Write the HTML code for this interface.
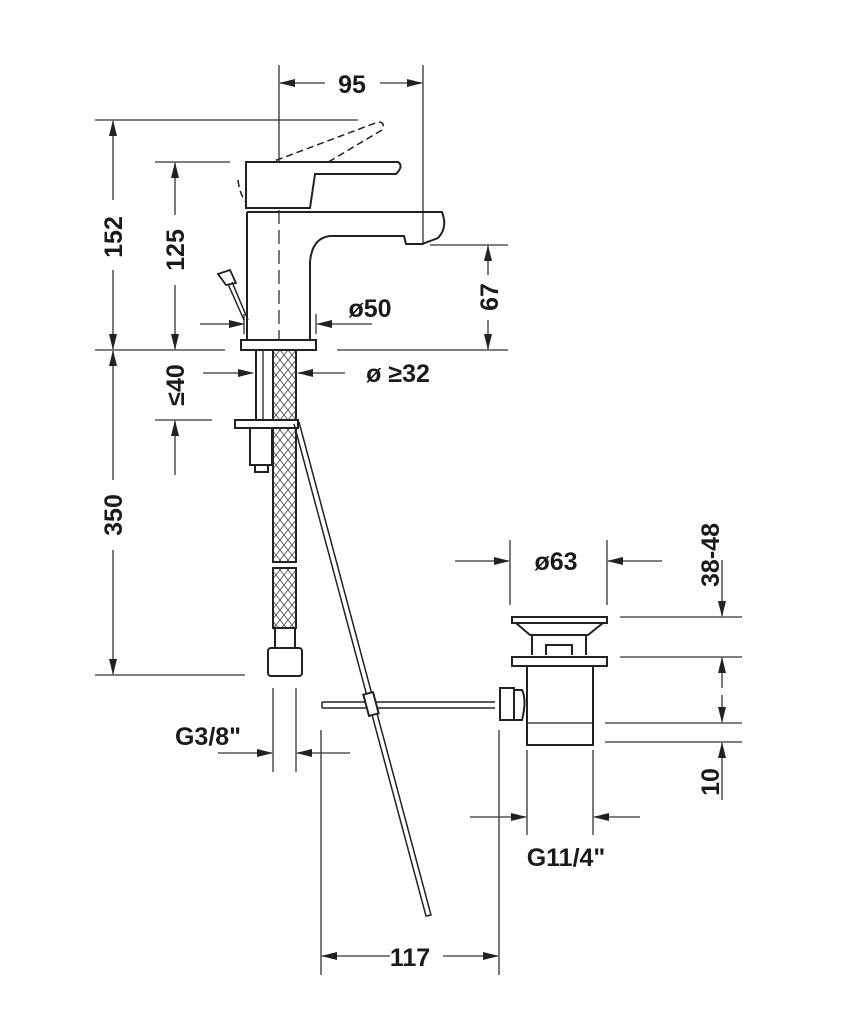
<!DOCTYPE html>
<html><head><meta charset="utf-8"><style>
html,body{margin:0;padding:0;background:#fff}
svg{display:block}
text{font-family:"Liberation Sans Narrow","Liberation Sans",sans-serif;font-weight:bold;font-size:25px;fill:#1a1a1a}
</style></head><body>
<svg width="866" height="1024" viewBox="0 0 866 1024" xmlns="http://www.w3.org/2000/svg">
<defs>
<marker id="a" markerWidth="16" markerHeight="8" refX="15" refY="4" orient="auto" markerUnits="userSpaceOnUse">
<path d="M0,0 L16,4 L0,8 Z" fill="#222"/></marker>
<pattern id="x" width="8" height="10" patternUnits="userSpaceOnUse">
<path d="M0,0 L8,10 M8,0 L0,10" stroke="#444" stroke-width="0.8"/></pattern>
</defs>
<g stroke="#333" stroke-width="1.3" fill="none">
<line x1="279" y1="65" x2="279" y2="150"/>
<line x1="423" y1="65" x2="423" y2="245"/>
<line x1="325" y1="83" x2="280" y2="83" marker-end="url(#a)"/>
<line x1="380" y1="83" x2="422" y2="83" marker-end="url(#a)"/>
<line x1="279" y1="150" x2="279" y2="350" stroke-dasharray="14,6"/>
<line x1="95" y1="120" x2="358" y2="120"/>
<line x1="95" y1="350" x2="225" y2="350"/>
<line x1="113" y1="200" x2="113" y2="121" marker-end="url(#a)"/>
<line x1="113" y1="270" x2="113" y2="349" marker-end="url(#a)"/>
<line x1="155" y1="162" x2="230" y2="162"/>
<line x1="175" y1="215" x2="175" y2="163" marker-end="url(#a)"/>
<line x1="175" y1="285" x2="175" y2="349" marker-end="url(#a)"/>
<line x1="113" y1="480" x2="113" y2="351" marker-end="url(#a)"/>
<line x1="113" y1="550" x2="113" y2="674" marker-end="url(#a)"/>
<line x1="95" y1="675" x2="245" y2="675"/>
<line x1="430" y1="245" x2="508" y2="245"/>
<line x1="337" y1="350" x2="508" y2="350"/>
<line x1="488" y1="275" x2="488" y2="246" marker-end="url(#a)"/>
<line x1="488" y1="320" x2="488" y2="349" marker-end="url(#a)"/>
<line x1="200" y1="324" x2="244" y2="324" marker-end="url(#a)"/>
<line x1="244" y1="314" x2="244" y2="334"/>
<line x1="372" y1="324" x2="317" y2="324" marker-end="url(#a)"/>
<line x1="316" y1="314" x2="316" y2="334"/>
<line x1="203" y1="373" x2="253" y2="373" marker-end="url(#a)"/>
<line x1="345" y1="373" x2="298" y2="373" marker-end="url(#a)"/>
<line x1="155" y1="420" x2="212" y2="420"/>
<line x1="175" y1="475" x2="175" y2="421" marker-end="url(#a)"/>
<line x1="273" y1="688" x2="273" y2="772"/>
<line x1="296" y1="688" x2="296" y2="772"/>
<line x1="218" y1="753" x2="272" y2="753" marker-end="url(#a)"/>
<line x1="350" y1="753" x2="297" y2="753" marker-end="url(#a)"/>
<line x1="321" y1="730" x2="321" y2="975"/>
<line x1="499" y1="730" x2="499" y2="975"/>
<line x1="390" y1="956" x2="322" y2="956" marker-end="url(#a)"/>
<line x1="443" y1="956" x2="498" y2="956" marker-end="url(#a)"/>
<line x1="510" y1="540" x2="510" y2="605"/>
<line x1="607" y1="540" x2="607" y2="605"/>
<line x1="455" y1="561" x2="509" y2="561" marker-end="url(#a)"/>
<line x1="662" y1="561" x2="608" y2="561" marker-end="url(#a)"/>
<line x1="620" y1="617" x2="742" y2="617"/>
<line x1="620" y1="657" x2="742" y2="657"/>
<line x1="605" y1="723" x2="742" y2="723"/>
<line x1="605" y1="742" x2="742" y2="742"/>
<line x1="722" y1="560" x2="722" y2="616" marker-end="url(#a)"/>
<line x1="722" y1="688" x2="722" y2="658" marker-end="url(#a)"/>
<line x1="722" y1="695" x2="722" y2="722" marker-end="url(#a)"/>
<line x1="722" y1="800" x2="722" y2="743" marker-end="url(#a)"/>
<line x1="527" y1="750" x2="527" y2="835"/>
<line x1="593" y1="750" x2="593" y2="835"/>
<line x1="470" y1="817" x2="526" y2="817" marker-end="url(#a)"/>
<line x1="640" y1="817" x2="594" y2="817" marker-end="url(#a)"/>
</g>
<g stroke="#222" stroke-width="2" fill="none">
<path d="M245,172 L378,122 Q386,122 382,130 L268,198 M238,180 Q240,198 250,206" stroke-dasharray="7,4" stroke-width="1.5"/>
<path d="M246,208 L246,162 L398,162 Q404,166 396,174 L315,174 L310,208 Z" fill="#fff"/>
<line x1="246" y1="208" x2="310" y2="208"/>
<path d="M247,212 L310,212"/>
<path d="M247,212 L247,340 M310,262 L310,340"/>
<path d="M310,212 L442,212 Q448,228 438,238 L422,244 L406,244 L404,236 L330,236 Q312,238 310,262"/>
<path d="M248,320 L232,282 M244,320 L228,284" stroke-width="1.5"/>
<path d="M226,285 L236,283 L230,270 L218,274 Z" stroke-width="1.8"/>
<rect x="241" y="340" width="75" height="10" fill="#fff"/>
<line x1="256" y1="350" x2="256" y2="420"/>
<line x1="263" y1="350" x2="263" y2="420" stroke-width="1.3"/>
<rect x="273" y="350" width="23" height="212" fill="url(#x)"/>
<rect x="273" y="568" width="23" height="60" fill="url(#x)"/>
<rect x="235" y="420" width="63" height="8" fill="#fff"/>
<path d="M250,428 L250,465 L272,465 L272,428"/>
<path d="M255,465 L255,472 L268,472 L268,465"/>
<rect x="275" y="628" width="20" height="20"/>
<rect x="268" y="648" width="34" height="28" rx="3" fill="#fff"/>
<path d="M294,424 L426,916 L431,915 L299,422" stroke-width="1.5"/>
<path d="M322,702 L495,702 M322,708 L495,708 M322,702 L322,708" stroke-width="1.5"/>
<rect x="366" y="693" width="10" height="22" fill="#fff" transform="rotate(-15 371 704)"/>
<rect x="512" y="617" width="95" height="6" fill="#fff"/>
<path d="M516,623 L530,635 L588,635 L603,623"/>
<path d="M532,635 L532,655 M586,635 L586,655"/>
<path d="M546,655 L546,645 L572,645 L572,655"/>
<rect x="512" y="657" width="95" height="9" fill="#fff"/>
<path d="M527,666 L527,745 L593,745 L593,666"/>
<path d="M527,723 L593,723" stroke-width="1.2"/>
<rect x="500" y="688" width="14" height="32" fill="#fff"/>
<path d="M514,690 L522,690 Q527,700 522,720 L514,720"/>
</g>
<text x="352" y="93" text-anchor="middle">95</text>
<text transform="translate(122,237) rotate(-90)" text-anchor="middle">152</text>
<text transform="translate(184,250) rotate(-90)" text-anchor="middle">125</text>
<text transform="translate(122,515) rotate(-90)" text-anchor="middle">350</text>
<text transform="translate(184,385) rotate(-90)" text-anchor="middle">≤40</text>
<text transform="translate(498,297) rotate(-90)" text-anchor="middle">67</text>
<text x="370" y="317" text-anchor="middle">ø50</text>
<text x="398" y="382" text-anchor="middle">ø ≥32</text>
<text x="208" y="745" text-anchor="middle">G3/8"</text>
<text x="410" y="966" text-anchor="middle">117</text>
<text x="556" y="570" text-anchor="middle">ø63</text>
<text transform="translate(719,555) rotate(-90)" text-anchor="middle">38-48</text>
<text transform="translate(719,782) rotate(-90)" text-anchor="middle">10</text>
<text x="566" y="866" text-anchor="middle">G11/4"</text>
</svg>
</body></html>
